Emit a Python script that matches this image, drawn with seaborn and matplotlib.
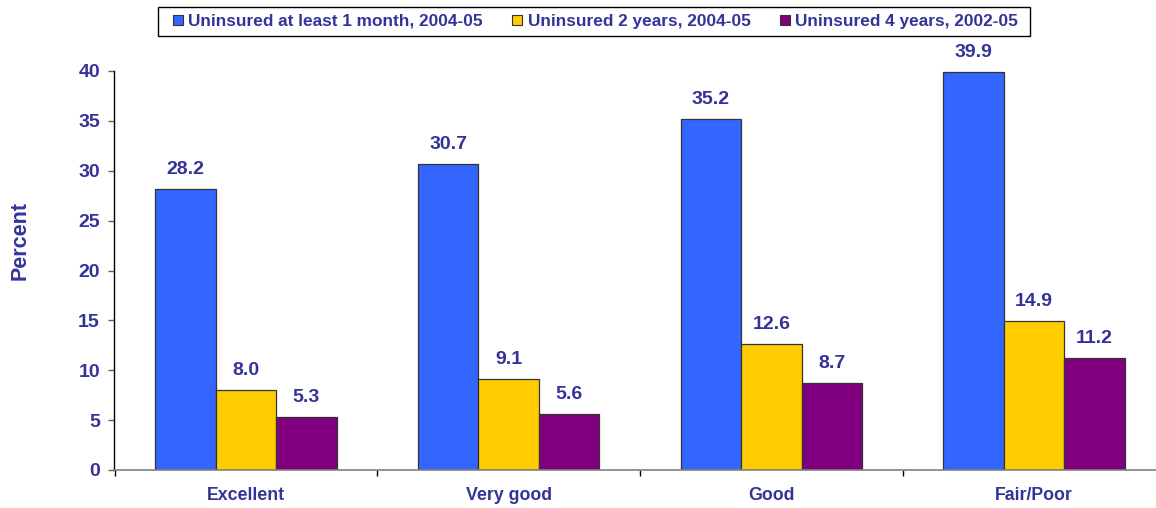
import matplotlib
matplotlib.use("Agg")
import matplotlib.pyplot as plt
import seaborn as sns
import pandas as pd
from matplotlib.patches import Patch, Rectangle
from matplotlib.ticker import FixedLocator

categories = ["Excellent", "Very good", "Good", "Fair/Poor"]
series_names = ["Uninsured at least 1 month, 2004-05",
                "Uninsured 2 years, 2004-05",
                "Uninsured 4 years, 2002-05"]
month1 = [28.2, 30.7, 35.2, 39.9]
years2 = [8.0, 9.1, 12.6, 14.9]
years4 = [5.3, 5.6, 8.7, 11.2]
colors = ["#3366FF", "#FFCC00", "#800080"]
yticks = [0, 5, 10, 15, 20, 25, 30, 35, 40]

rows = []
for name, vals in zip(series_names, [month1, years2, years4]):
    for c, v in zip(categories, vals):
        rows.append({"Category": c, "Series": name, "Value": v})
df = pd.DataFrame(rows)

sns.set_style("white")
plt.rcParams['font.family'] = ['Liberation Sans', 'DejaVu Sans']
txt = "#333399"

W, H = 1156, 508
fig = plt.figure(figsize=(W / 100, H / 100), dpi=100)
ax = fig.add_axes([114 / W, 38 / H, 1 - 114 / W, (470 - 71) / H])

sns.barplot(data=df, x="Category", y="Value", hue="Series", order=categories,
            hue_order=series_names, palette=colors, width=0.69, gap=0,
            edgecolor="#333333", linewidth=0.9, saturation=1, ax=ax, legend=False)

for cont in ax.containers:
    ax.bar_label(cont, fmt="%.1f", padding=8, color=txt, fontsize=14, fontweight="bold")

ax.set_ylim(0, 40)
ax.set_xlim(-0.5025, 3.464)
ax.set_yticks(yticks)
ax.set_xlabel("")
ax.set_ylabel("Percent", color=txt, fontsize=15.5, fontweight="bold")
ax.yaxis.label.set_verticalalignment("center")
ax.yaxis.set_label_coords((20.5 - 114) / 1042, (470 - 241) / 399)
for s in ["top", "right"]:
    ax.spines[s].set_visible(False)
ax.spines["left"].set_color("black")
ax.spines["left"].set_linewidth(1.0)
ax.spines["bottom"].set_color("#808080")
ax.spines["bottom"].set_linewidth(1.2)
ax.tick_params(axis="y", which="major", left=True, length=4.3, width=1, color="#606060",
               labelcolor=txt, labelsize=14, pad=5.8)
for lab in ax.get_yticklabels():
    lab.set_fontweight("bold")
ax.xaxis.set_minor_locator(FixedLocator([-0.5, 0.5, 1.5, 2.5, 3.5]))
ax.tick_params(axis="x", which="minor", bottom=True, length=4.3, width=1, color="black")
ax.tick_params(axis="x", which="major", bottom=False, length=0, labelcolor=txt,
               labelsize=12.8, pad=12.5)
for lab in ax.get_xticklabels():
    lab.set_fontweight("bold")

# legend
handles = [Patch(facecolor=c, edgecolor="#333333", linewidth=0.8) for c in colors]
leg = fig.legend(handles, series_names, loc="center", bbox_to_anchor=(595.5 / W, 1 - 21.5 / H),
                 ncol=3, frameon=False,
                 prop={"weight": "bold", "size": 12.4}, labelcolor=txt,
                 handlelength=0.58, handleheight=0.58, handletextpad=0.3, columnspacing=1.7,
                 borderpad=0.3)
fig.patches.append(Rectangle((158 / W, 1 - 36 / H), (1030 - 158) / W, 29 / H,
                             transform=fig.transFigure, fill=False,
                             edgecolor="black", linewidth=1.0))

fig.savefig("out.png", dpi=100)
